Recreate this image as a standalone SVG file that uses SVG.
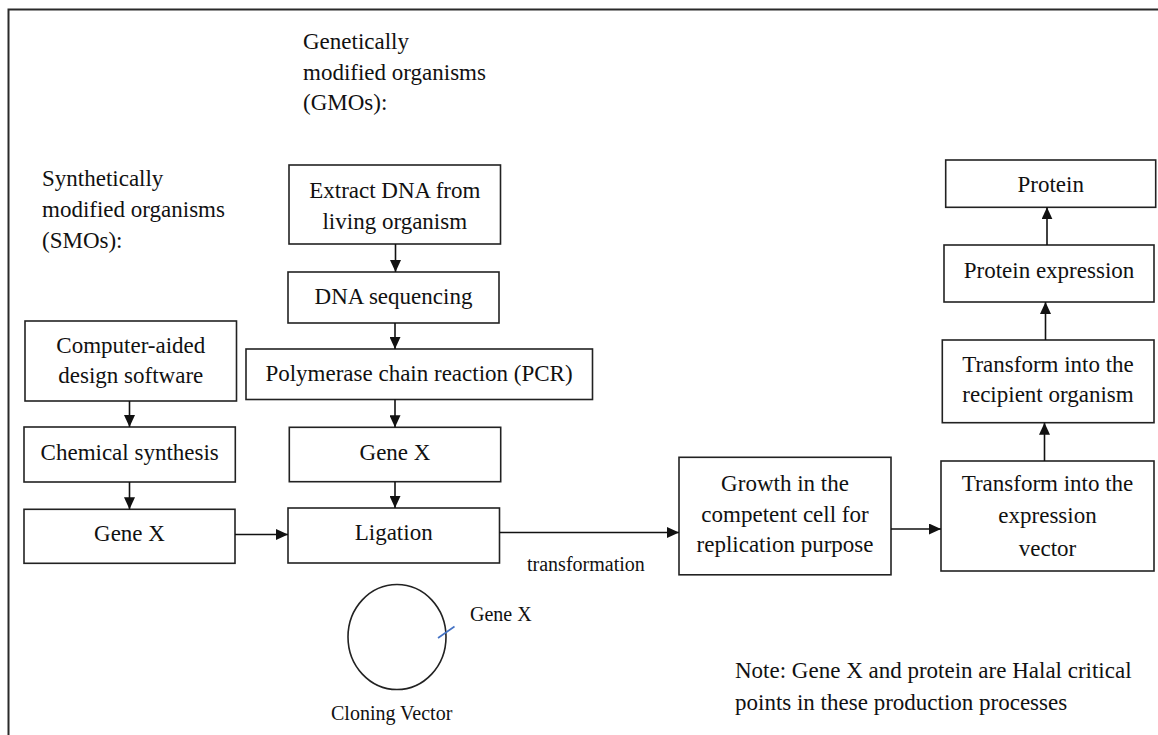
<svg xmlns="http://www.w3.org/2000/svg" width="1158" height="735" viewBox="0 0 1158 735">
<style>
  .box { fill: #fff; stroke: #222; stroke-width: 1.6; }
  .t { font-family: "Liberation Serif", "Times New Roman", serif; font-size: 23px; fill: #111; text-anchor: middle; }
  .tl { font-family: "Liberation Serif", "Times New Roman", serif; font-size: 23px; fill: #111; }
  .ts { font-family: "Liberation Serif", "Times New Roman", serif; font-size: 20px; fill: #111; }
  .c { stroke: #111; stroke-width: 1.6; fill: none; marker-end: url(#arr); }
</style>
<defs>
  <marker id="arr" markerUnits="userSpaceOnUse" markerWidth="12" markerHeight="11" refX="12" refY="5.5" orient="auto" viewBox="0 0 12 11">
    <path d="M0,0 L12,5.5 L0,11 z" fill="#111"/>
  </marker>
</defs>
<rect width="1158" height="735" fill="#fff"/>
<g id="frame">
  <path d="M8.5,735 L8.5,9.5 L1158,9.5" fill="none" stroke="#2a2a2a" stroke-width="2"/>
</g>
<g id="labels">
  <text class="tl" x="303" y="49">Genetically</text>
  <text class="tl" x="303" y="80">modified organisms</text>
  <text class="tl" x="303" y="110">(GMOs):</text>
  <text class="tl" x="42" y="186">Synthetically</text>
  <text class="tl" x="42" y="217">modified organisms</text>
  <text class="tl" x="42" y="248">(SMOs):</text>
  <text class="ts" x="527" y="571">transformation</text>
  <text class="tl" x="735" y="678">Note: Gene X and protein are Halal critical</text>
  <text class="tl" x="735" y="710">points in these production processes</text>
</g>
<g id="extract"><rect class="box" x="289" y="165" width="211.5" height="79"/>
  <text class="t" x="394.8" y="198">Extract DNA from</text>
  <text class="t" x="394.8" y="229">living organism</text></g>
<g id="dnaseq"><rect class="box" x="288" y="272" width="211" height="51"/>
  <text class="t" x="393.5" y="304">DNA sequencing</text></g>
<g id="pcr"><rect class="box" x="246" y="349" width="346.5" height="50.5"/>
  <text class="t" x="419" y="381">Polymerase chain reaction (PCR)</text></g>
<g id="genex_mid"><rect class="box" x="289.3" y="427.3" width="211.4" height="54.4"/>
  <text class="t" x="395" y="460">Gene X</text></g>
<g id="ligation"><rect class="box" x="288" y="508" width="211.5" height="55"/>
  <text class="t" x="393.7" y="540">Ligation</text></g>
<g id="cad"><rect class="box" x="25" y="321" width="211.5" height="80"/>
  <text class="t" x="130.8" y="353">Computer-aided</text>
  <text class="t" x="130.8" y="383">design software</text></g>
<g id="chem"><rect class="box" x="24" y="427" width="211.3" height="55"/>
  <text class="t" x="129.7" y="460">Chemical synthesis</text></g>
<g id="genex_left"><rect class="box" x="24" y="509.3" width="211" height="54"/>
  <text class="t" x="129.5" y="541">Gene X</text></g>
<g id="growth"><rect class="box" x="679" y="457.3" width="212" height="117.5"/>
  <text class="t" x="785" y="491">Growth in the</text>
  <text class="t" x="785" y="522">competent cell for</text>
  <text class="t" x="785" y="552">replication purpose</text></g>
<g id="expvec"><rect class="box" x="941" y="461" width="213" height="110"/>
  <text class="t" x="1047.5" y="491">Transform into the</text>
  <text class="t" x="1047.5" y="523">expression</text>
  <text class="t" x="1047.5" y="556">vector</text></g>
<g id="recipient"><rect class="box" x="942.3" y="340" width="211.7" height="82.7"/>
  <text class="t" x="1048" y="372">Transform into the</text>
  <text class="t" x="1048" y="402">recipient organism</text></g>
<g id="protexp"><rect class="box" x="944" y="245" width="210" height="57"/>
  <text class="t" x="1049" y="278">Protein expression</text></g>
<g id="protein"><rect class="box" x="945.7" y="160" width="210" height="47.3"/>
  <text class="t" x="1050.7" y="192">Protein</text></g>
<g id="vector">
  <ellipse cx="397" cy="637" rx="49" ry="52.5" fill="none" stroke="#222" stroke-width="1.6"/>
  <line x1="438" y1="638" x2="454.5" y2="626.5" stroke="#4472C4" stroke-width="1.6"/>
  <text class="ts" x="470" y="621">Gene X</text>
  <text class="ts" x="331" y="720">Cloning Vector</text>
</g>
<g id="connectors">
  <line class="c" x1="395.5" y1="244" x2="395.5" y2="272"/>
  <line class="c" x1="395" y1="323" x2="395" y2="349"/>
  <line class="c" x1="395" y1="399.5" x2="395" y2="427.3"/>
  <line class="c" x1="395" y1="481.7" x2="395" y2="508"/>
  <line class="c" x1="129.5" y1="401" x2="129.5" y2="427"/>
  <line class="c" x1="129.5" y1="482" x2="129.5" y2="509.3"/>
  <line class="c" x1="235" y1="534.5" x2="288" y2="534.5"/>
  <line class="c" x1="499.5" y1="532.5" x2="679" y2="532.5"/>
  <line class="c" x1="891" y1="529" x2="941" y2="529"/>
  <line class="c" x1="1044.5" y1="461" x2="1044.5" y2="422.7"/>
  <line class="c" x1="1045.5" y1="340" x2="1045.5" y2="302"/>
  <line class="c" x1="1047" y1="245" x2="1047" y2="207.3"/>
</g>
</svg>
